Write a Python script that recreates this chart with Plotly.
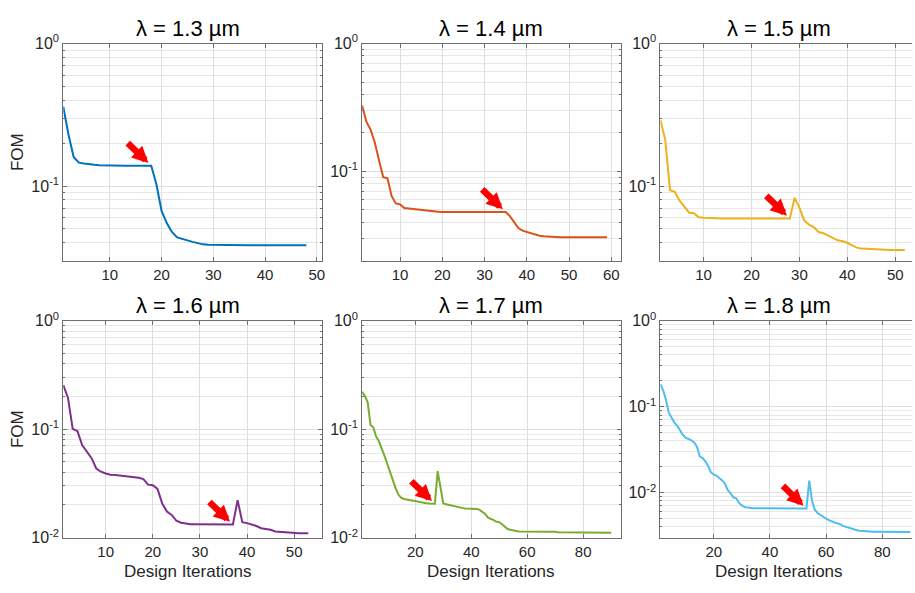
import math
import plotly.graph_objects as go

# ---------------- data ----------------
titles = ["λ = 1.3 µm", "λ = 1.4 µm", "λ = 1.5 µm", "λ = 1.6 µm", "λ = 1.7 µm", "λ = 1.8 µm"]

fom_13 = [0.36, 0.23, 0.16, 0.146, 0.144, 0.142, 0.141, 0.140, 0.1395, 0.139,
          0.139, 0.139, 0.139, 0.139, 0.139, 0.139, 0.139, 0.139, 0.103, 0.067,
          0.055, 0.0476, 0.0436, 0.0428, 0.0416, 0.0406, 0.0398, 0.039, 0.0388, 0.0387,
          0.0386, 0.0385, 0.0385, 0.0385, 0.0385, 0.0385, 0.0385, 0.0385, 0.0385, 0.0385,
          0.0385, 0.0385, 0.0385, 0.0385, 0.0385, 0.0385, 0.0385, 0.0385]

fom_14 = [0.327, 0.245, 0.212, 0.168, 0.122, 0.090, 0.088, 0.0638, 0.056, 0.055,
          0.0515, 0.051, 0.0507, 0.0503, 0.050, 0.0495, 0.049, 0.0485, 0.0482, 0.048,
          0.048, 0.048, 0.048, 0.048, 0.048, 0.048, 0.048, 0.048, 0.048, 0.048,
          0.048, 0.048, 0.048, 0.048, 0.048, 0.0446, 0.0398, 0.036, 0.0343, 0.0335,
          0.0325, 0.032, 0.0313, 0.031, 0.0308, 0.0306, 0.0305, 0.0305, 0.0305, 0.0305,
          0.0305, 0.0305, 0.0305, 0.0305, 0.0305, 0.0305, 0.0305, 0.0305, 0.0305]

fom_15 = [0.29, 0.212, 0.0935, 0.091, 0.079, 0.0714, 0.065, 0.0644, 0.0605, 0.060,
          0.0597, 0.0595, 0.0593, 0.0593, 0.0593, 0.0593, 0.0593, 0.0593, 0.0593, 0.0593,
          0.0593, 0.0593, 0.0593, 0.0593, 0.0593, 0.0593, 0.0593, 0.0593, 0.0826, 0.0706,
          0.0574, 0.0537, 0.0515, 0.0476, 0.0467, 0.0448, 0.043, 0.0416, 0.041, 0.040,
          0.0383, 0.037, 0.0364, 0.0362, 0.036, 0.0359, 0.0358, 0.0357, 0.0356, 0.0356,
          0.0356, 0.0356]

fom_16 = [0.255, 0.194, 0.1007, 0.096, 0.0713, 0.062, 0.054, 0.0434, 0.0405, 0.039,
          0.038, 0.0377, 0.0373, 0.037, 0.0366, 0.0361, 0.0356, 0.0346, 0.0308, 0.0304,
          0.0281, 0.0206, 0.0174, 0.0162, 0.0143, 0.0137, 0.0134, 0.0133, 0.0133, 0.0133,
          0.0133, 0.0133, 0.0133, 0.0133, 0.0132, 0.0132, 0.0132, 0.0221, 0.0139, 0.0136,
          0.0132, 0.0128, 0.0122, 0.012, 0.0118, 0.0114, 0.0113, 0.0112, 0.0111, 0.0110,
          0.0110, 0.0110, 0.0110]

fom_17 = [0.221, 0.202, 0.177, 0.109, 0.104, 0.0857, 0.0773, 0.0673, 0.0567, 0.0477,
          0.0402, 0.0327, 0.0285, 0.0248, 0.0232, 0.0227, 0.0224, 0.0221, 0.0218, 0.0217,
          0.0214, 0.0211, 0.0209, 0.0207, 0.0206, 0.0205, 0.0205, 0.041, 0.029, 0.0207,
          0.0203, 0.0200, 0.0197, 0.0194, 0.0192, 0.0189, 0.0187, 0.0186, 0.0185, 0.0185,
          0.0185, 0.0184, 0.0180, 0.0173, 0.0165, 0.0153, 0.0150, 0.0145, 0.0140, 0.0139,
          0.0133, 0.0126, 0.0120, 0.0118, 0.0116, 0.0115, 0.0114, 0.0114, 0.0114, 0.0113,
          0.0113, 0.0113, 0.0113, 0.0113, 0.0113, 0.0113, 0.0113, 0.0113, 0.0113, 0.0113,
          0.0112, 0.0112, 0.0112, 0.0112, 0.0112, 0.0112, 0.0112, 0.0112, 0.0112, 0.0112,
          0.0111, 0.0111, 0.0111, 0.0111, 0.0111, 0.0111, 0.0111, 0.0111, 0.0111, 0.0111]

fom_18 = [0.183, 0.154, 0.119, 0.0845, 0.0743, 0.0653, 0.060, 0.0526, 0.0471, 0.0436,
          0.0422, 0.0407, 0.0383, 0.0343, 0.0264, 0.0253, 0.0232, 0.0204, 0.0172, 0.0162,
          0.0157, 0.0149, 0.0139, 0.0127, 0.0107, 0.0098, 0.0088, 0.0086, 0.0076, 0.0071,
          0.0068, 0.0067, 0.0066, 0.0066, 0.0066, 0.0066, 0.0066, 0.0066, 0.0066, 0.0066,
          0.0066, 0.00658, 0.00658, 0.00658, 0.00658, 0.00658, 0.00656, 0.00656, 0.00656, 0.00656,
          0.00655, 0.00655, 0.00655, 0.0138, 0.0080, 0.0063, 0.0058, 0.0055, 0.0052, 0.0050,
          0.0048, 0.0046, 0.0045, 0.0044, 0.0043, 0.0041, 0.0040, 0.0039, 0.0038, 0.0037,
          0.00365, 0.0036, 0.00357, 0.00354, 0.0035, 0.0035, 0.0035, 0.0035, 0.0035, 0.0035,
          0.00349, 0.00349, 0.00349, 0.00349, 0.00349, 0.00348, 0.00348, 0.00348, 0.00348, 0.00348]

series = [fom_13, fom_14, fom_15, fom_16, fom_17, fom_18]
arrow_iter = [18, 35, 28, 37, 27, 53]

x_tickvals = [[10, 20, 30, 40, 50], [10, 20, 30, 40, 50, 60], [10, 20, 30, 40, 50],
              [10, 20, 30, 40, 50], [20, 40, 60, 80], [20, 40, 60, 80]]
y_tickvals = [[1, 0.1], [1, 0.1], [1, 0.1], [1, 0.1, 0.01], [1, 0.1, 0.01], [1, 0.1, 0.01]]
y_ticktext = [["10<sup>0</sup>", "10<sup>-1</sup>"], ["10<sup>0</sup>", "10<sup>-1</sup>"],
              ["10<sup>0</sup>", "10<sup>-1</sup>"],
              ["10<sup>0</sup>", "10<sup>-1</sup>", "10<sup>-2</sup>"],
              ["10<sup>0</sup>", "10<sup>-1</sup>", "10<sup>-2</sup>"],
              ["10<sup>0</sup>", "10<sup>-1</sup>", "10<sup>-2</sup>"]]

# ---------------- styling / layout ----------------
colors = ["#0072BD", "#D95319", "#EDB120", "#7E2F8E", "#77AC30", "#4DBEEE"]
W, H = 915, 593
col_px = [(63.5, 323.0), (363.3, 623.0), (662.6, 915.0)]
row_px = [(33.7, 258.3), (320.5, 545.0)]
x_ranges = [[1, 51], [1, 62.3], [1, 53.5], [1, 55.9], [1, 93.5], [1, 90.6]]
y_ranges = [[math.log10(0.03), 0], [math.log10(0.02), 0], [math.log10(0.03), 0],
            [-2, 0], [-2, 0], [math.log10(0.003), 0]]
title_x_px = [188.3, 492.5, 782.0]
title_y_px = [18.0, 305.0]

FONT = "Liberation Sans, Arial, Helvetica, sans-serif"
AXC = "#6e6e6e"
GRID = "#dedede"
MINGRID = "#e8e8e8"
TICKC = "#262626"

minor_vals = [m * 10.0 ** e for e in (-3, -2, -1) for m in range(2, 10)]

fig = go.Figure()
layout = dict(width=W, height=H, margin=dict(l=0, r=0, t=0, b=0),
              paper_bgcolor="white", plot_bgcolor="white", showlegend=False,
              font=dict(family=FONT, color=TICKC))
annotations = []

for k in range(6):
    r, c = divmod(k, 3)
    xs = list(range(1, len(series[k]) + 1))
    xn = "x" if k == 0 else f"x{k+1}"
    yn = "y" if k == 0 else f"y{k+1}"
    fig.add_trace(go.Scatter(x=xs, y=series[k], mode="lines", xaxis=xn, yaxis=yn,
                             line=dict(color=colors[k], width=2), hoverinfo="skip"))
    x0, x1 = col_px[c]
    y0, y1 = row_px[r]
    xkey = "xaxis" if k == 0 else f"xaxis{k+1}"
    ykey = "yaxis" if k == 0 else f"yaxis{k+1}"
    layout[xkey] = dict(domain=[x0 / W, min(x1 / W, 1.0)], range=x_ranges[k], anchor=yn,
                        tickmode="array", tickvals=x_tickvals[k], ticks="inside", ticklen=4,
                        tickcolor=AXC, showline=True, linecolor=AXC, linewidth=1,
                        mirror="allticks", showgrid=True, gridcolor=GRID, gridwidth=1,
                        zeroline=False, tickfont=dict(size=15, color=TICKC, family=FONT))
    layout[ykey] = dict(domain=[1 - y1 / H, 1 - y0 / H], type="log", range=y_ranges[k],
                        anchor=xn, tickmode="array", tickvals=y_tickvals[k],
                        ticktext=y_ticktext[k], ticks="inside", ticklen=4, tickcolor=AXC,
                        showline=True, linecolor=AXC, linewidth=1,
                        mirror=("allticks" if c < 2 else False),
                        showgrid=True, gridcolor=GRID, gridwidth=1, zeroline=False,
                        tickfont=dict(size=16, color=TICKC, family=FONT),
                        minor=dict(tickmode="array", tickvals=minor_vals, showgrid=True,
                                   gridcolor=MINGRID, gridwidth=1, ticks="inside",
                                   ticklen=2, tickcolor=AXC))
    # panel title
    annotations.append(dict(text=titles[k], xref="paper", yref="paper",
                            x=title_x_px[c] / W, y=1 - title_y_px[r] / H,
                            xanchor="center", yanchor="middle", showarrow=False,
                            font=dict(size=22, color="black", family=FONT)))
    # red arrow
    ai = arrow_iter[k]
    annotations.append(dict(x=ai, y=math.log10(series[k][ai - 1]), xref=xn, yref=yn,
                            showarrow=True, arrowhead=2, arrowsize=0.5, arrowwidth=6.5,
                            arrowcolor="#ff0000", ax=-25, ay=-24, standoff=4, text=""))

# axis labels
for r in range(2):
    y0, y1 = row_px[r]
    annotations.append(dict(text="FOM", xref="paper", yref="paper", x=17 / W,
                            y=1 - (y0 + y1) / 2 / H, textangle=-90, showarrow=False,
                            xanchor="center", yanchor="middle",
                            font=dict(size=17, color=TICKC, family=FONT)))
for c in range(3):
    annotations.append(dict(text="Design Iterations", xref="paper", yref="paper",
                            x=title_x_px[c] / W, y=1 - 580 / H, showarrow=False,
                            xanchor="center", yanchor="middle",
                            font=dict(size=17, color=TICKC, family=FONT)))

layout["annotations"] = annotations
fig.update_layout(**layout)
fig.write_html("out.html")
